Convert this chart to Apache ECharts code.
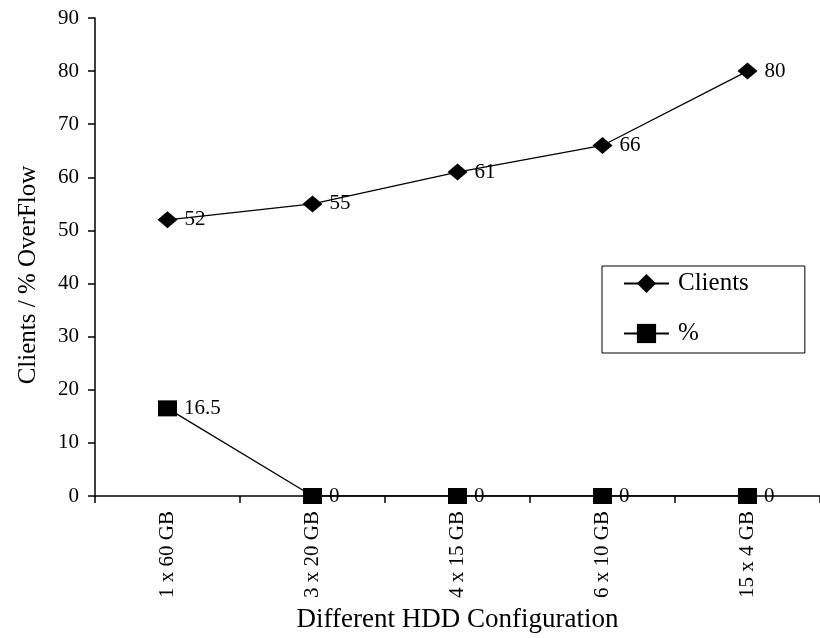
<!DOCTYPE html>
<html>
<head>
<meta charset="utf-8">
<script src="https://cdn.jsdelivr.net/npm/echarts@6/dist/echarts.min.js"></script>
<style>html,body{margin:0;padding:0;background:#fff;}#c{width:820px;height:638px;}</style>
</head>
<body>
<div id="c"></div>
<script>
var categories = ['1 x 60 GB', '3 x 20 GB', '4 x 15 GB', '6 x 10 GB', '15 x 4 GB'];
var clients = [52, 55, 61, 66, 80];
var overflow = [16.5, 0, 0, 0, 0];
var yTicks = {min: 0, max: 90, interval: 10};

var FONT = '"Liberation Serif", "Times New Roman", serif';
var chart = echarts.init(document.getElementById('c'), null, {renderer: 'canvas'});
var labelCfg = {
  show: true, position: 'right', distance: 7,
  color: '#000', fontFamily: FONT, fontSize: 21
};
chart.setOption({
  animation: false,
  backgroundColor: '#fff',
  textStyle: {fontFamily: FONT, color: '#000'},
  grid: {left: 95, top: 18, right: -5, bottom: 141, containLabel: false},
  legend: {
    orient: 'vertical',
    left: 602, top: 266,
    padding: [5, 56, 7, 21],
    itemWidth: 45, itemHeight: 24, itemGap: 25,
    borderColor: '#000', borderWidth: 1,
    textStyle: {fontFamily: FONT, fontSize: 25, color: '#000', padding: [0, 0, 0, 4]},
    data: ['Clients', '%']
  },
  xAxis: {
    type: 'category',
    data: categories,
    boundaryGap: true,
    name: 'Different HDD Configuration',
    nameLocation: 'middle',
    nameGap: 110,
    nameTextStyle: {fontFamily: FONT, fontSize: 27, color: '#000'},
    axisLine: {lineStyle: {color: '#000', width: 1.5}},
    axisTick: {show: true, length: 7, alignWithLabel: false, lineStyle: {color: '#000', width: 1.5}},
    axisLabel: {rotate: 90, margin: 15, fontFamily: FONT, fontSize: 21, color: '#000'},
    splitLine: {show: false}
  },
  yAxis: {
    type: 'value',
    min: yTicks.min, max: yTicks.max, interval: yTicks.interval,
    name: 'Clients / % OverFlow',
    nameLocation: 'middle',
    nameGap: 54,
    nameRotate: 90,
    nameTextStyle: {fontFamily: FONT, fontSize: 25, color: '#000', padding: [0, 36, 0, 0]},
    axisLine: {show: true, lineStyle: {color: '#000', width: 1.5}},
    axisTick: {show: true, length: 7, lineStyle: {color: '#000', width: 1.5}},
    axisLabel: {margin: 16, fontFamily: FONT, fontSize: 21, color: '#000'},
    splitLine: {show: false}
  },
  series: [
    {
      name: 'Clients', type: 'line', data: clients,
      symbol: 'diamond', symbolSize: [20, 17],
      itemStyle: {color: '#000'},
      lineStyle: {color: '#000', width: 1.3},
      label: labelCfg, z: 3
    },
    {
      name: '%', type: 'line', data: overflow,
      symbol: 'rect', symbolSize: [19, 16],
      itemStyle: {color: '#000'},
      lineStyle: {color: '#000', width: 1.3},
      label: labelCfg, z: 3
    }
  ]
});
</script>
</body>
</html>
